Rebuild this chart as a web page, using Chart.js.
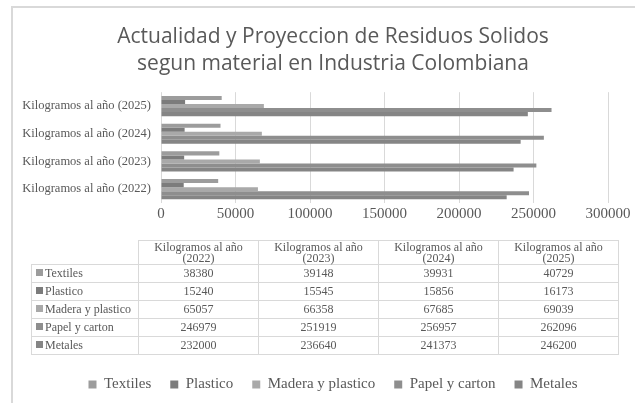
<!DOCTYPE html>
<html>
<head>
<meta charset="utf-8">
<script src="https://cdn.jsdelivr.net/npm/chart.js@4.4.1/dist/chart.umd.min.js"></script>
<style>
  html, body { margin: 0; padding: 0; background: #fff; }
  #wrap { position: relative; width: 635px; height: 403px; overflow: hidden; }
  #frame { position: absolute; left: 11px; top: 6px; width: 640px; height: 420px;
           border-left: 2px solid #d9d9d9; border-top: 2px solid #d9d9d9; box-sizing: border-box; }
  #c { position: absolute; left: 0; top: 0; }
  #tbl { position: absolute; left: 31px; top: 240px; border-collapse: collapse;
         font-family: "Liberation Serif", "DejaVu Serif", serif; font-size: 12px; color: #595959; }
  #tbl td, #tbl th { border: 1px solid #d9d9d9; padding: 0; font-weight: normal; }
  #tbl th { height: 23px; line-height: 11px; text-align: center; vertical-align: middle; }
  #tbl td { height: 17px; line-height: 17px; text-align: center; }
  #tbl th.corner { border: none; border-right: 1px solid #d9d9d9; border-bottom: 1px solid #d9d9d9; }
  #tbl td.rl { text-align: left; padding-left: 4px; width: 102px; white-space: nowrap; }
  #tbl .key { display: inline-block; width: 7px; height: 7px; margin-right: 2px; vertical-align: 1px; }
  #tbl .col { width: 119px; }
</style>
</head>
<body>
<div id="wrap">
  <div id="frame"></div>
  <canvas id="c" width="660" height="403"></canvas>
  <table id="tbl"></table>
</div>
<script>
// ---- Data ----
const categories = ["Kilogramos al año (2022)", "Kilogramos al año (2023)", "Kilogramos al año (2024)", "Kilogramos al año (2025)"];
const seriesNames = ["Textiles", "Plastico", "Madera y plastico", "Papel y carton", "Metales"];
const textiles = [38380, 39148, 39931, 40729];
const plastico = [15240, 15545, 15856, 16173];
const maderaPlastico = [65057, 66358, 67685, 69039];
const papelCarton = [246979, 251919, 256957, 262096];
const metales = [232000, 236640, 241373, 246200];
const xTicks = [0, 50000, 100000, 150000, 200000, 250000, 300000];

const seriesValues = [textiles, plastico, maderaPlastico, papelCarton, metales];
const seriesColors = ["#9c9c9c", "#7c7c7c", "#a9a9a9", "#8e8e8e", "#858585"];

const TEXT = "#595959";
const SERIF = '"Liberation Serif", "DejaVu Serif", serif';

// ---- Chart ----
const ctx = document.getElementById("c").getContext("2d");
new Chart(ctx, {
  type: "bar",
  data: {
    labels: categories,
    datasets: seriesNames.map((n, i) => ({
      label: n,
      data: seriesValues[i],
      backgroundColor: seriesColors[i],
      borderWidth: 0,
      categoryPercentage: 0.73,
      barPercentage: 1.0
    }))
  },
  options: {
    indexAxis: "y",
    responsive: false,
    animation: false,
    layout: { padding: { left: 12, right: 6, top: 6, bottom: 1 } },
    scales: {
      x: {
        min: 0, max: 300000,
        afterBuildTicks: (s) => { s.ticks = xTicks.map(v => ({ value: v })); },
        afterFit: (s) => { s.height = 155; },
        grid: { color: "#d9d9d9", lineWidth: 1, drawTicks: false },
        border: { display: false },
        ticks: { color: TEXT, font: { family: SERIF, size: 15 }, padding: 2, maxRotation: 0,
                 callback: (v) => String(v) }
      },
      y: {
        reverse: true,
        afterFit: (s) => { s.width = 149; },
        grid: { display: false, drawTicks: false },
        border: { display: false },
        ticks: { color: TEXT, font: { family: SERIF, size: 12.5 }, padding: 10 }
      },
      yRight: {
        type: "category",
        axis: "y",
        position: "right",
        labels: categories,
        afterFit: (s) => { s.width = 46; },
        grid: { display: false, drawTicks: false },
        border: { display: false },
        ticks: { display: false }
      }
    },
    plugins: {
      title: {
        display: true,
        text: ["Actualidad y Proyeccion de Residuos Solidos", "segun material en Industria Colombiana"],
        color: TEXT,
        font: { family: '"Open Sans", "Noto Sans", sans-serif', size: 21, weight: "normal", lineHeight: 1.29 },
        padding: { top: 17, bottom: 15 }
      },
      legend: {
        position: "bottom",
        labels: {
          color: TEXT,
          font: { family: SERIF, size: 15 },
          boxWidth: 8, boxHeight: 8, padding: 19
        }
      },
      tooltip: { enabled: false }
    }
  }
});

// ---- Data table (built from the arrays) ----
const tbl = document.getElementById("tbl");
let html = '<tr><th class="corner"></th>';
categories.forEach(c => {
  const k = c.indexOf(" (");
  html += '<th class="col">' + c.slice(0, k) + '<br>' + c.slice(k + 1) + '</th>';
});
html += '</tr>';
seriesNames.forEach((n, i) => {
  html += '<tr><td class="rl"><span class="key" style="background:' + seriesColors[i] + '"></span>' + n + '</td>';
  seriesValues[i].forEach(v => { html += '<td>' + v + '</td>'; });
  html += '</tr>';
});
tbl.innerHTML = html;
</script>
</body>
</html>
